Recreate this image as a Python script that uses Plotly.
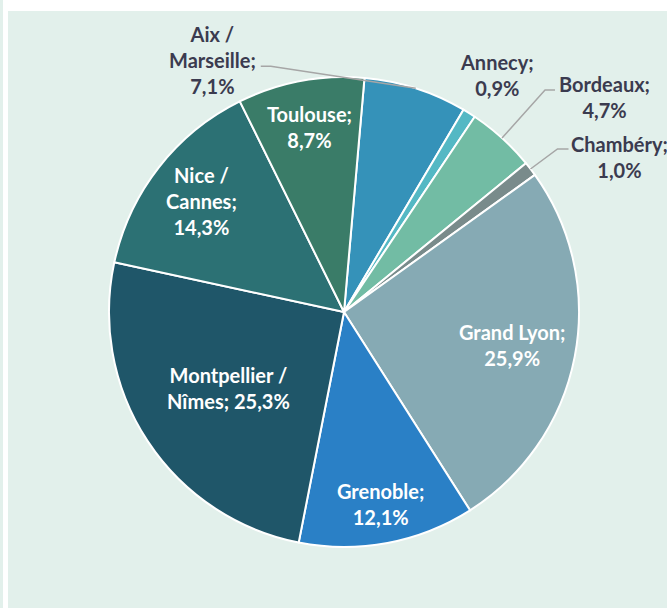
import math
import plotly.graph_objects as go

# parts de marché par agglomération (ordre des catégories, sens horaire)
villes = ["Aix / Marseille", "Annecy", "Bordeaux", "Chambéry", "Grand Lyon",
          "Grenoble", "Montpellier / Nîmes", "Nice / Cannes", "Toulouse"]
libelles = ["Aix /<br>Marseille;", "Annecy;", "Bordeaux;", "Chambéry;", "Grand Lyon;",
            "Grenoble;", "Montpellier /<br>Nîmes;", "Nice /<br>Cannes;", "Toulouse;"]
parts = [7.1, 0.9, 4.7, 1.0, 25.9, 12.1, 25.3, 14.3, 8.7]

couleurs = ["#3592b9", "#54b8c4", "#72bca4", "#798b8b", "#86aab4",
            "#2a80c6", "#1f5669", "#2c7174", "#3a7c68"]

# étiquettes intérieures : fraction du rayon
interieur = {"Grand Lyon": 0.73, "Grenoble": 0.83, "Montpellier / Nîmes": 0.59,
             "Nice / Cannes": 0.77, "Toulouse": 0.80}
# étiquettes extérieures : décalage (px) du centre du texte depuis le bord de la part,
# puis coude et fin du trait de rappel relatifs au centre du texte (None = pas de trait)
exterieur = {
    "Aix / Marseille": ((-203, -28), ((58, 6), (48, 6))),
    "Annecy": ((28, -38), None),
    "Bordeaux": ((102, -41), ((-59, -7), (-49, -7))),
    "Chambéry": ((89, -12), ((-62, -8), (-51, -8))),
}

W, H = 667, 608
cx, cy, r = 344, 312, 235
rotation = 5
police = "Lato, Open Sans, sans-serif"

textes = []
for ville, lib, p in zip(villes, libelles, parts):
    val = f"{p:.1f}%".replace(".", ",")
    txt = f"{lib} {val}" if ville.startswith("Montpellier") else f"{lib}<br>{val}"
    textes.append(txt)

fig = go.Figure()
fig.add_trace(
    go.Pie(
        labels=villes,
        values=parts,
        textinfo="none",
        sort=False,
        direction="clockwise",
        rotation=rotation,
        marker=dict(colors=couleurs, line=dict(color="white", width=2)),
        domain=dict(x=[(cx - r) / W, (cx + r) / W], y=[(H - cy - r) / H, (H - cy + r) / H]),
        showlegend=False,
        hoverinfo="label+percent",
    )
)


def papier(x, y):
    return x / W, 1 - y / H


# étiquettes placées sur l'angle médian de chaque part
total = sum(parts)
cumul = 0
annotations = []
traits = []
for ville, txt, p in zip(villes, textes, parts):
    milieu = math.radians(rotation + (cumul + p / 2) / total * 360)
    cumul += p
    if ville in interieur:
        k = interieur[ville]
        x, y = papier(cx + k * r * math.sin(milieu), cy - k * r * math.cos(milieu))
        couleur = "white"
    else:
        (dx, dy), trait = exterieur[ville]
        bx = cx + r * math.sin(milieu)
        by = cy - r * math.cos(milieu)
        tx, ty = bx + dx, by + dy
        x, y = papier(tx, ty)
        couleur = "#3b3b4f"
        if trait:
            (kx, ky), (fx, fy) = trait
            p0 = papier(bx, by)
            p1 = papier(tx + kx, ty + ky)
            p2 = papier(tx + fx, ty + fy)
            traits.append(dict(
                type="path", xref="paper", yref="paper",
                path=f"M {p0[0]} {p0[1]} L {p1[0]} {p1[1]} L {p2[0]} {p2[1]}",
                line=dict(color="#a6a6a6", width=1.5),
            ))
    annotations.append(dict(
        x=x, y=y, xref="paper", yref="paper", xanchor="center", yanchor="middle",
        text=txt, align="center", showarrow=False,
        font=dict(family=police, size=20, color=couleur, weight="bold"),
    ))

fond = [
    dict(type="rect", xref="paper", yref="paper", x0=8 / W, x1=1, y0=0, y1=1 - 11 / H,
         fillcolor="#e2f0eb", line=dict(width=0), layer="below"),
    dict(type="rect", xref="paper", yref="paper", x0=0, x1=3 / W, y0=0, y1=1,
         fillcolor="#e2f0eb", line=dict(width=0), layer="below"),
]

fig.update_layout(
    width=W,
    height=H,
    margin=dict(l=0, r=0, t=0, b=0),
    paper_bgcolor="white",
    plot_bgcolor="white",
    annotations=annotations,
    shapes=fond + traits,
)

fig.write_html("out.html", config={"displayModeBar": False},
               post_script="document.body.style.margin = '0';")
